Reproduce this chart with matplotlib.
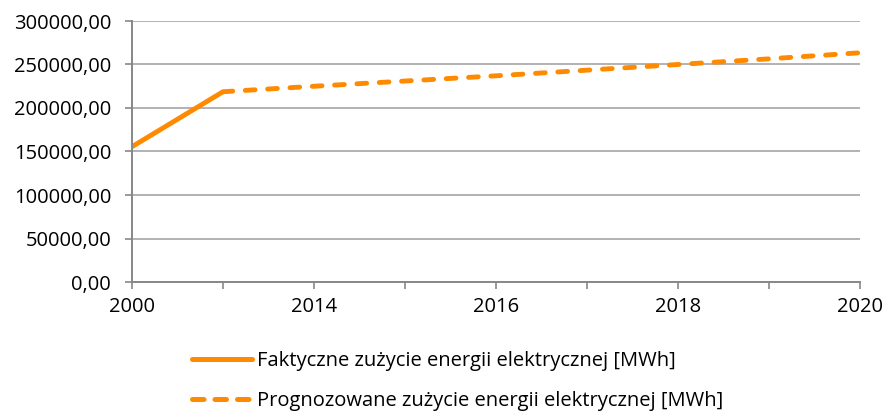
import matplotlib
matplotlib.use("Agg")
import matplotlib.pyplot as plt
from matplotlib.ticker import FuncFormatter, FixedLocator

categories = ["2000", "2012", "2014", "2015", "2016", "2017", "2018", "2019", "2020"]
tick_labels = ["2000", "", "2014", "", "2016", "", "2018", "", "2020"]
actual = [155500, 218700]
forecast = [218700, 225000, 231000, 237000, 243500, 250000, 256500, 263500]
actual_label = "Faktyczne zużycie energii elektrycznej [MWh]"
forecast_label = "Prognozowane zużycie energii elektrycznej [MWh]"

plt.rcParams['font.family'] = ['Open Sans', 'DejaVu Sans']
W, H = 886, 411
fig = plt.figure(figsize=(W / 100, H / 100), dpi=100)
ax = fig.add_axes([132 / W, 1 - 282 / H, (860 - 132) / W, (282 - 21) / H])

orange = '#ff8a00'
FS = 14.5
x_act = list(range(len(actual)))
x_fc = list(range(1, 1 + len(forecast)))
ax.plot(x_act, actual, color=orange, lw=3.5, solid_capstyle='butt', label=actual_label)
ax.plot(x_fc, forecast, color=orange, lw=3.5, dashes=(2.0, 2.6), dash_capstyle='round', label=forecast_label)

ax.set_xlim(0, len(categories) - 1)
ax.set_ylim(0, 300000)
ax.set_yticks(range(0, 300001, 50000))
ax.yaxis.set_major_formatter(FuncFormatter(lambda v, p: f"{v:.2f}".replace('.', ',')))
ax.xaxis.set_major_locator(FixedLocator(list(range(len(categories)))))
ax.set_xticklabels(tick_labels)

ax.grid(axis='y', color='#a6a6a6', lw=1.2)
ax.set_axisbelow(True)
for s in ['top', 'right']:
    ax.spines[s].set_visible(False)
for s in ['left', 'bottom']:
    ax.spines[s].set_color('#878787')
    ax.spines[s].set_linewidth(1.4)
ax.tick_params(axis='both', colors='#878787', labelcolor='black', labelsize=FS, length=5, width=1.2)
ax.tick_params(axis='x', pad=6)
ax.tick_params(axis='y', pad=10)

leg = ax.legend(loc='center left', bbox_to_anchor=(192 / W, 1 - 381 / H), bbox_transform=fig.transFigure,
                frameon=False, fontsize=FS, handlelength=3.0, handletextpad=0.25, labelspacing=0.95,
                borderpad=0, borderaxespad=0)
lines = leg.get_lines()
for line in lines:
    line.set_linewidth(3.6)
lines[0].set_solid_capstyle('round')
lines[1].set_dashes((2.3, 2.2))
lines[1].set_dash_capstyle('round')

fig.savefig("out.png", dpi=100)
